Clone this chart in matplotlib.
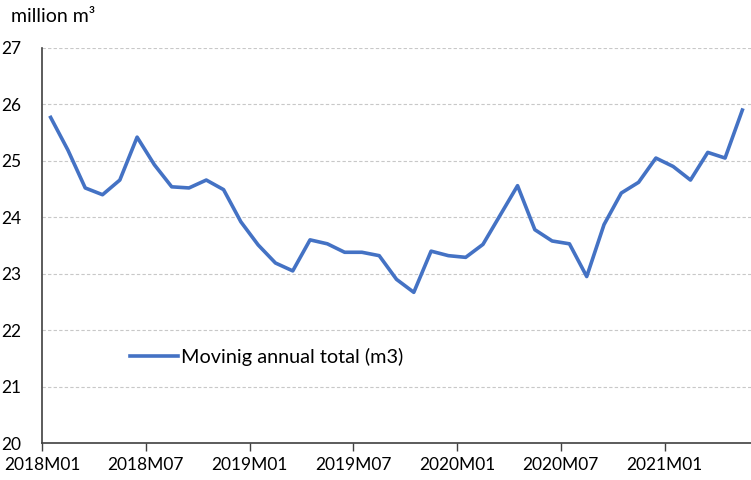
import numpy as np
import matplotlib
matplotlib.use("Agg")
import matplotlib.pyplot as plt

plt.rcParams['font.family'] = ['Lato', 'DejaVu Sans']

months = []
for y in range(2018, 2022):
    for m in range(1, 13):
        months.append(f"{y}M{m:02d}")
months = months[:41]

values = [25.77, 25.19, 24.52, 24.40, 24.66, 25.42, 24.93, 24.54, 24.52, 24.66,
          24.49, 23.92, 23.51, 23.19, 23.05, 23.60, 23.53, 23.38, 23.38, 23.32,
          22.90, 22.67, 23.40, 23.32, 23.29, 23.52, 24.04, 24.56, 23.78, 23.58,
          23.53, 22.95, 23.87, 24.43, 24.62, 25.05, 24.90, 24.66, 25.15, 25.05,
          25.90]

fig = plt.figure(figsize=(7.51, 4.80), dpi=100)
ax = fig.add_axes([42 / 751, 1 - 443 / 480, 709 / 751, (443 - 48) / 480])

x = np.arange(len(values))
ax.plot(x, values, color='#4472C4', linewidth=2.6, label='Movinig annual total (m3)')

ax.set_xlim(-0.5, len(values) - 0.5)
ax.set_ylim(20, 27)
ax.set_yticks(range(20, 28))
ax.yaxis.grid(True, color='#c8c8c8', linestyle=(0, (3, 2)), linewidth=0.8)
ax.set_axisbelow(True)

tick_pos = np.arange(0, len(values), 6)
ax.set_xticks(tick_pos - 0.5)
ax.set_xticklabels([months[i] for i in tick_pos])

ax.tick_params(axis='y', length=0, labelsize=12.5, pad=15)
ax.tick_params(axis='x', length=6, width=1, labelsize=12.5, color='#404040', pad=4)
for s in ['top', 'right']:
    ax.spines[s].set_visible(False)
for s in ['left', 'bottom']:
    ax.spines[s].set_color('#404040')
    ax.spines[s].set_linewidth(1.2)

fig.text(11 / 751, 1 - 16 / 480, 'million m³', fontsize=14, va='center')

ax.legend(loc='center left', bbox_to_anchor=(0.113, 0.218), frameon=False,
          fontsize=14.3, handlelength=2.4, handletextpad=0.15, borderaxespad=0)

fig.savefig('out.png', dpi=100)
